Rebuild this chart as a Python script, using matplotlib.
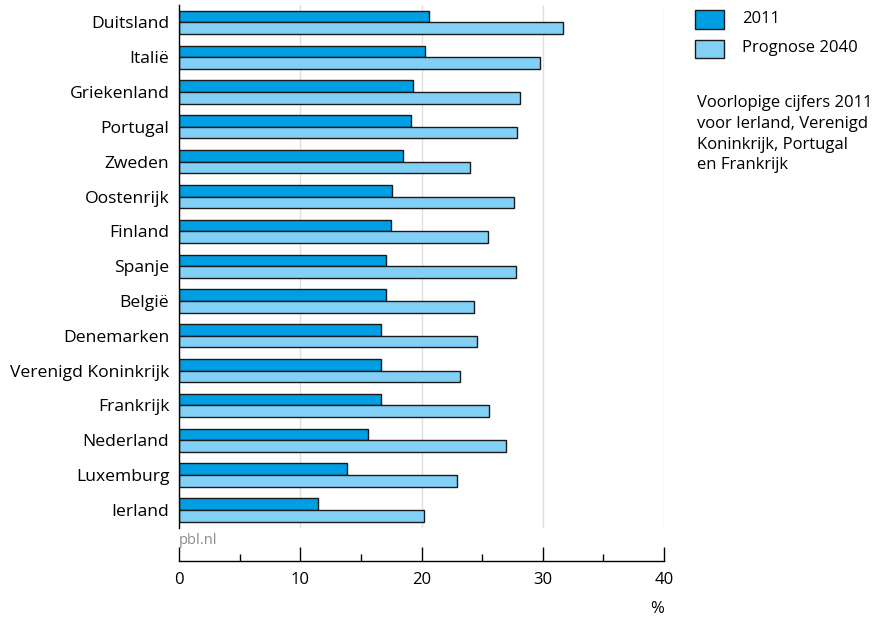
import matplotlib.pyplot as plt
from matplotlib.patches import Rectangle
import numpy as np

plt.rcParams['font.family'] = ['Open Sans', 'DejaVu Sans']

# data
landen = ["Duitsland", "Italië", "Griekenland", "Portugal", "Zweden", "Oostenrijk",
          "Finland", "Spanje", "België", "Denemarken", "Verenigd Koninkrijk",
          "Frankrijk", "Nederland", "Luxemburg", "Ierland"]
waarden_2011 = [20.6, 20.3, 19.3, 19.1, 18.5, 17.6, 17.45, 17.1, 17.1, 16.7,
                16.65, 16.65, 15.6, 13.85, 11.5]
prognose_2040 = [31.7, 29.8, 28.1, 27.9, 24.0, 27.6, 25.5, 27.8, 24.3, 24.6,
                 23.2, 25.6, 27.0, 22.9, 20.2]
xticks = [0, 10, 20, 30, 40]

kleur_2011 = "#009fe3"
kleur_2040 = "#82d0f5"
W, H = 873, 617
fs = 12

fig = plt.figure(figsize=(W / 100, H / 100), dpi=100)
ax = fig.add_axes([179 / W, 1 - 528 / H, (664 - 179) / W, (528 - 5) / H])

y = np.arange(len(landen))
h = 1 / 3
ax.barh(y - h / 2, waarden_2011, height=h, color=kleur_2011, edgecolor="#1a1a1a", linewidth=1, zorder=3)
ax.barh(y + h / 2, prognose_2040, height=h, color=kleur_2040, edgecolor="#1a1a1a", linewidth=1, zorder=3)

ax.set_ylim(14.52, -0.5)
ax.set_xlim(0, 40)
ax.set_yticks(y)
ax.set_yticklabels(landen, fontsize=12.6)
ax.tick_params(axis="y", length=0, pad=7)

ax.set_xticks(xticks)
ax.set_xticks([5, 15, 25, 35], minor=True)
ax.tick_params(axis="x", which="major", direction="in", length=10, width=1, labelsize=fs, pad=8)
ax.tick_params(axis="x", which="minor", direction="in", length=5, width=1)
ax.xaxis.grid(True, which="major", color="#e0e0e0", linewidth=1, zorder=0)

for s in ["top", "right"]:
    ax.spines[s].set_visible(False)
ax.spines["left"].set_linewidth(1)
ax.spines["left"].set_zorder(4)
ax.spines["bottom"].set_position(("outward", 24))
ax.spines["bottom"].set_linewidth(1)

fig.text(179 / W, 1 - 541 / H, "pbl.nl", color="#8c8c8c", fontsize=10.5, va="center", ha="left")
fig.text(664 / W, 1 - 609 / H, "%", fontsize=fs, va="center", ha="right")

# legend
for i, (kleur, label) in enumerate([(kleur_2011, "2011"), (kleur_2040, "Prognose 2040")]):
    top = 10 + i * 29.5
    fig.add_artist(Rectangle((695 / W, 1 - (top + 18.5) / H), 29 / W, 18.5 / H,
                             transform=fig.transFigure, facecolor=kleur,
                             edgecolor="#1a1a1a", linewidth=1))
    fig.text(742 / W, 1 - (top + 9) / H, label, fontsize=fs, va="center", ha="left")

noot = "Voorlopige cijfers 2011\nvoor Ierland, Verenigd\nKoninkrijk, Portugal\nen Frankrijk"
fig.text(697 / W, 1 - 95 / H, noot, fontsize=fs, va="top", ha="left", linespacing=1.4)

fig.savefig("out.png", dpi=100)
